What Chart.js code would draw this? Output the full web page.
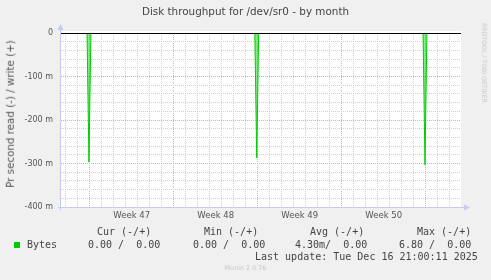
<!DOCTYPE html>
<html>
<head>
<meta charset="utf-8">
<script src="https://cdn.jsdelivr.net/npm/chart.js@4/dist/chart.umd.min.js"></script>
<style>
  html, body { margin: 0; padding: 0; background: #f0f0f0; }
  #wrap { position: relative; width: 491px; height: 280px; overflow: hidden; }
  #wrap canvas { position: absolute; left: 0; top: 0; }
  .t { position: absolute; white-space: pre; line-height: 1; }
  .mono { font-family: "DejaVu Sans Mono", monospace; font-size: 10px; color: #444; }
  .sans { font-family: "DejaVu Sans", sans-serif; }
</style>
</head>
<body>
<div id="wrap"><canvas id="c" width="491" height="280"></canvas></div>
<script>
// --- data (x in days from Monday of week 47) ---
const xMin = -2.39, xMax = 30.94;
const readDays = [-2.39, -0.22, -0.06, 0.1, 13.76, 13.92, 14.08, 27.78, 27.94, 28.1, 30.94];
const readValues = [0, 0, -0.297, 0, 0, -0.287, 0, 0, -0.303, 0, 0];
const writeDays = [-2.39, 30.94];
const writeValues = [0, 0];

const weekMids = [3.5, 10.5, 17.5, 24.5];
const weekLabels = ["Week 47", "Week 48", "Week 49", "Week 50"];
const yLabelValues = [0, -0.1, -0.2, -0.3, -0.4];
const yTickLabels = ["0", "-100 m", "-200 m", "-300 m", "-400 m"];

const legendHeaders = ["Cur (-/+)", "Min (-/+)", "Avg (-/+)", "Max (-/+)"];
const bytesValues = ["0.00 /  0.00", "0.00 /  0.00", "4.30m/  0.00", "6.80 /  0.00"];
const lastUpdate = "Last update: Tue Dec 16 21:00:11 2025";

const GREEN = "#00cc00";
const MAJOR = "#eaa6a6";
const MINOR = "#d0d0d0";

// grid ticks: every day, every 20m
const dayTicks = [];
for (let d = -2; d <= 30; d++) dayTicks.push(d);
const yGrid = [];
for (let i = 0; i <= 20; i++) yGrid.push(-i * 20 / 1000);

const plotDeco = {
  id: "plotDeco",
  beforeDraw(chart) {
    const { ctx, chartArea: a } = chart;
    ctx.save();
    ctx.fillStyle = "#ffffff";
    ctx.fillRect(a.left, a.top - 2, a.right - a.left, a.bottom - a.top + 2);
    ctx.restore();
  },
  afterDatasetsDraw(chart) {
    const { ctx, chartArea: a, scales } = chart;
    const y0 = Math.round(scales.y.getPixelForValue(0)) + 0.5;
    ctx.save();
    ctx.strokeStyle = "#000";
    ctx.lineWidth = 1;
    ctx.beginPath();
    ctx.moveTo(a.left, y0);
    ctx.lineTo(a.right, y0);
    ctx.stroke();
    // axes with arrows
    const ax = "#c8c8f4";
    ctx.strokeStyle = ax;
    ctx.fillStyle = ax;
    const lx = a.left - 0.5, by = a.bottom + 0.5;
    ctx.beginPath();
    ctx.moveTo(lx, a.bottom + 3);
    ctx.lineTo(lx, a.top - 4);
    ctx.moveTo(a.left - 3, by);
    ctx.lineTo(a.right + 4, by);
    ctx.stroke();
    ctx.beginPath();
    ctx.moveTo(lx - 3, a.top - 3);
    ctx.lineTo(lx + 3, a.top - 3);
    ctx.lineTo(lx, a.top - 9);
    ctx.closePath();
    ctx.fill();
    ctx.beginPath();
    ctx.moveTo(a.right + 3, by - 3);
    ctx.lineTo(a.right + 3, by + 3);
    ctx.lineTo(a.right + 9, by);
    ctx.closePath();
    ctx.fill();
    ctx.restore();
  }
};

const isMajorY = v => Math.abs(Math.round(v * 1000)) % 100 === 0;

new Chart(document.getElementById("c"), {
  type: "line",
  data: {
    datasets: [
      {
        label: "read",
        data: readDays.map((d, i) => ({ x: d, y: readValues[i] })),
        borderColor: GREEN,
        backgroundColor: "rgba(0,204,0,0.45)",
        borderWidth: 1,
        fill: "origin",
        pointRadius: 0,
        tension: 0,
      },
      {
        label: "write",
        data: writeDays.map((d, i) => ({ x: d, y: writeValues[i] })),
        borderColor: GREEN,
        borderWidth: 1,
        pointRadius: 0,
        fill: false,
      },
    ],
  },
  options: {
    responsive: false,
    animation: false,
    layout: { padding: { top: 33, right: 30, bottom: 57, left: 0 } },
    plugins: { legend: { display: false }, tooltip: { enabled: false } },
    scales: {
      x: {
        type: "linear", min: xMin, max: xMax,
        afterBuildTicks: s => { s.ticks = dayTicks.map(v => ({ value: v })); },
        afterFit: s => { s.height = 0; },
        ticks: { display: false, autoSkip: false },
        grid: { drawTicks: false, color: c => (c.tick && c.tick.value % 7 === 0 ? MAJOR : MINOR) },
        border: { display: false, dash: [1, 1] },
      },
      x2: {
        type: "linear", position: "bottom", min: xMin, max: xMax,
        afterBuildTicks: s => { s.ticks = weekMids.map(v => ({ value: v })); },
        afterFit: s => { s.height = 16; },
        ticks: {
          autoSkip: false, maxRotation: 0, padding: 4, color: "#555",
          font: { family: "DejaVu Sans", size: 8.5 },
          callback: (v, i) => weekLabels[i],
        },
        grid: { display: false, drawTicks: false },
        border: { display: false },
      },
      y: {
        type: "linear", min: -0.4, max: 0,
        afterBuildTicks: s => { s.ticks = yGrid.map(v => ({ value: v })); },
        afterFit: s => { s.width = 61; },
        ticks: {
          autoSkip: false, padding: 8, color: "#555",
          font: { family: "DejaVu Sans", size: 8 },
          callback: v => {
            const i = yLabelValues.findIndex(t => Math.abs(t - v) < 1e-6);
            return i >= 0 ? yTickLabels[i] : "";
          },
        },
        grid: { drawTicks: false, color: c => (c.tick && isMajorY(c.tick.value) ? MAJOR : MINOR) },
        border: { display: false, dash: [1, 1] },
      },
    },
  },
  plugins: [plotDeco],
});

// --- texts around the plot ---
const wrap = document.getElementById("wrap");
function addText(text, cls, style) {
  const d = document.createElement("div");
  d.className = "t " + cls;
  d.textContent = text;
  Object.assign(d.style, style);
  wrap.appendChild(d);
  return d;
}
addText("Disk throughput for /dev/sr0 - by month", "sans",
  { left: "0", width: "491px", textAlign: "center", top: "6px", fontSize: "10.4px", color: "#444" });
addText("Pr second read (-) / write (+)", "sans",
  { left: "10px", top: "114px", fontSize: "10.3px", color: "#555", transform: "translate(-50%,-50%) rotate(-90deg)" });
addText("RRDTOOL / TOBI OETIKER", "sans",
  { left: "484px", top: "63px", fontSize: "6.2px", color: "#c8c8c8", transform: "translate(-50%,-50%) rotate(90deg)" });

const colX = [97, 204, 310, 417];
const valX = [88, 193, 295, 399];
legendHeaders.forEach((h, i) => addText(h, "mono", { left: colX[i] + "px", top: "227px" }));
bytesValues.forEach((v, i) => addText(v, "mono", { left: valX[i] + "px", top: "240px" }));
addText("Bytes", "mono", { left: "27px", top: "240px" });
const sq = document.createElement("div");
Object.assign(sq.style, { position: "absolute", left: "14px", top: "242px", width: "6px", height: "6px", background: GREEN });
wrap.appendChild(sq);
addText(lastUpdate, "mono", { left: "255px", top: "252px" });
addText("Munin 2.0.76", "sans", { left: "0", width: "491px", textAlign: "center", top: "265px", fontSize: "6.4px", color: "#c8c8c8" });
</script>
</body>
</html>
